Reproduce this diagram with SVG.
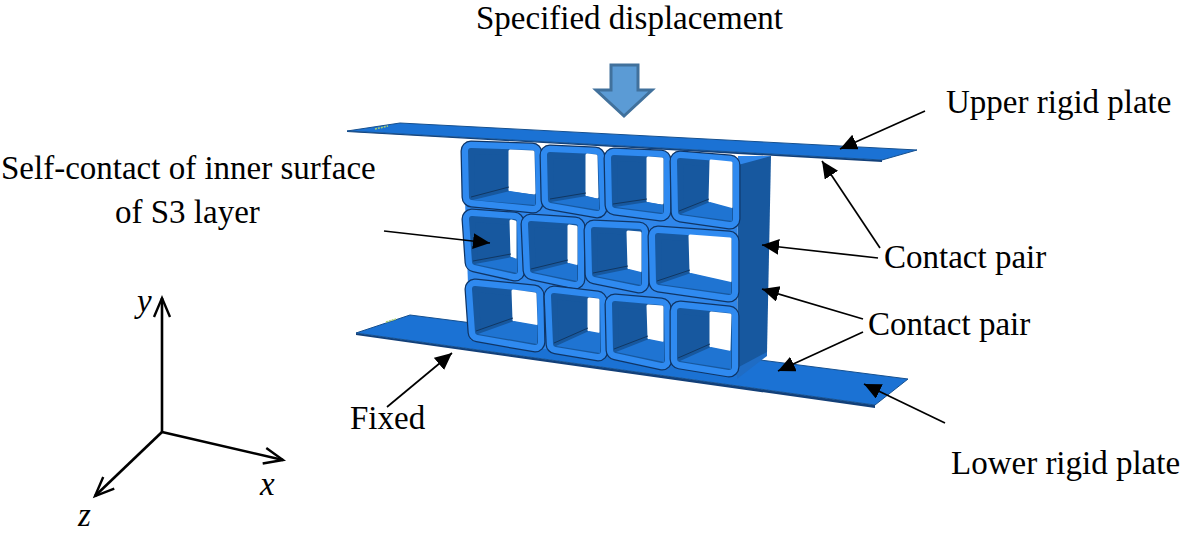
<svg xmlns="http://www.w3.org/2000/svg" width="1181" height="537" viewBox="0 0 1181 537">
<defs>
<marker id="head" markerUnits="userSpaceOnUse" markerWidth="18" markerHeight="18" refX="17" refY="8" orient="auto"><path d="M0,0L17,8L0,16z" fill="#000"/></marker>
<marker id="open" markerUnits="userSpaceOnUse" markerWidth="24" markerHeight="24" refX="20" refY="10" orient="auto"><path d="M1,2L20,10L1,18" fill="none" stroke="#000" stroke-width="2.4"/></marker>
</defs>
<style>
text{font-family:"Liberation Serif","Times New Roman",serif;font-size:33px;fill:#000}
.i{font-style:italic}
.plate{fill:#1b72d4;stroke:#16508f;stroke-width:1;stroke-linejoin:round}
.under{fill:#123f78}
.speck{fill:none;stroke:#a8d070;stroke-width:1.5;stroke-dasharray:2 1}
.web{fill:#2f86ea}
.wall{fill:#17589f}
.wl{fill:#1f6cc4}
.cell polygon{stroke-linejoin:round}
.e{fill:#0f3566;stroke:#0f3566;stroke-width:21}
.r{fill:#2f8af0;stroke:#2f8af0;stroke-width:18.5}
.d{fill:#17589f;stroke:#17589f;stroke-width:6}
.h{fill:#fff;stroke:#fff;stroke-width:3}
.f{fill:#1f74d2;stroke:none}
.c{fill:none;stroke:#103763;stroke-width:1}
.ln{fill:none;stroke:#000;stroke-width:1.7;marker-end:url(#head)}
.ax{fill:none;stroke:#000;stroke-width:2.6;marker-end:url(#open)}
</style>
<rect width="1181" height="537" fill="#fff"/>

<g id="lower-plate">
<polygon class="under" points="356,333 875,405 875,408 356,335"/>
<polygon class="plate" points="356,333 410,315 908,379 875,405"/>
<path class="speck" d="M386,322L396,319"/>
</g>

<g id="side-wall">
<polygon class="wall" points="738,157 771,156 767,353 737,378"/>
<polygon class="web" points="738,156 771,156 738,165"/>
<polygon class="wl" points="737,368 767,352 767,356 737,379"/>
</g>

<g id="lattice">
<polygon class="web" points="463,145 738,160 737,372 470,340"/>
<g id="cell-1" class="cell"><polygon class="e" points="471,151 532,153 533,203 472,197"/><polygon class="r" points="471,151 532,153 533,203 472,197"/><polygon class="d" points="471,151 532,153 533,203 472,197"/><polygon class="h" points="510,151 533,152 534,193 510,190"/><polygon class="f" points="473,200 510,191 535,195 535,205"/><polyline class="c" points="471,197 509,187"/></g>
<g id="cell-2" class="cell"><polygon class="e" points="550,155 595,157 597,208 551,200"/><polygon class="r" points="550,155 595,157 597,208 551,200"/><polygon class="d" points="550,155 595,157 597,208 551,200"/><polygon class="h" points="587,155 596,156 597,197 587,195"/><polygon class="f" points="551,202 587,196 599,199 599,210"/><polyline class="c" points="550,199 586,193"/></g>
<g id="cell-3" class="cell"><polygon class="e" points="614,158 661,160 661,211 615,205"/><polygon class="r" points="614,158 661,160 661,211 615,205"/><polygon class="d" points="614,158 661,160 661,211 615,205"/><polygon class="h" points="648,158 662,159 662,203 648,201"/><polygon class="f" points="615,207 648,202 663,205 663,213"/><polyline class="c" points="613,204 647,199"/></g>
<g id="cell-4" class="cell"><polygon class="e" points="680,161 730,165 730,219 681,212"/><polygon class="r" points="680,161 730,165 730,219 681,212"/><polygon class="d" points="680,161 730,165 730,219 681,212"/><polygon class="h" points="711,161 731,163 731,207 710,201"/><polygon class="f" points="681,214 710,202 732,208 732,221"/><polyline class="c" points="679,211 709,199"/></g>
<g id="cell-5" class="cell"><polygon class="e" points="472,219 514,222 515,271 475,262"/><polygon class="r" points="472,219 514,222 515,271 475,262"/><polygon class="d" points="472,219 514,222 515,271 475,262"/><polygon class="h" points="511,221 515,222 515,258 512,256"/><polygon class="f" points="475,264 512,257 517,259 517,273"/><polyline class="c" points="473,261 511,254"/></g>
<g id="cell-6" class="cell"><polygon class="e" points="531,224 575,227 575,279 533,270"/><polygon class="r" points="531,224 575,227 575,279 533,270"/><polygon class="d" points="531,224 575,227 575,279 533,270"/><polygon class="h" points="569,226 576,227 576,264 569,262"/><polygon class="f" points="533,272 569,263 577,265 577,281"/><polyline class="c" points="531,269 568,260"/></g>
<g id="cell-7" class="cell"><polygon class="e" points="594,230 639,232 639,283 595,274"/><polygon class="r" points="594,230 639,232 639,283 595,274"/><polygon class="d" points="594,230 639,232 639,283 595,274"/><polygon class="h" points="628,232 640,233 640,271 629,268"/><polygon class="f" points="595,276 629,269 641,272 641,285"/><polyline class="c" points="593,273 628,266"/></g>
<g id="cell-8" class="cell"><polygon class="e" points="658,236 729,241 729,292 659,282"/><polygon class="r" points="658,236 729,241 729,292 659,282"/><polygon class="d" points="658,236 729,241 729,292 659,282"/><polygon class="h" points="690,236 730,239 730,281 691,272"/><polygon class="f" points="659,284 691,273 731,282 731,294"/><polyline class="c" points="657,281 690,270"/></g>
<g id="cell-9" class="cell"><polygon class="e" points="475,289 534,295 535,342 478,332"/><polygon class="r" points="475,289 534,295 535,342 478,332"/><polygon class="d" points="475,289 534,295 535,342 478,332"/><polygon class="h" points="513,291 535,294 536,324 514,320"/><polygon class="f" points="478,334 514,321 537,325 537,344"/><polyline class="c" points="476,331 513,318"/></g>
<g id="cell-10" class="cell"><polygon class="e" points="554,296 597,301 598,351 556,344"/><polygon class="r" points="554,296 597,301 598,351 556,344"/><polygon class="d" points="554,296 597,301 598,351 556,344"/><polygon class="h" points="589,299 598,300 598,332 589,330"/><polygon class="f" points="556,346 589,331 600,333 600,353"/><polyline class="c" points="554,343 588,328"/></g>
<g id="cell-11" class="cell"><polygon class="e" points="615,304 661,308 662,360 616,350"/><polygon class="r" points="615,304 661,308 662,360 616,350"/><polygon class="d" points="615,304 661,308 662,360 616,350"/><polygon class="h" points="648,306 662,307 662,341 649,338"/><polygon class="f" points="616,352 649,339 664,342 664,362"/><polyline class="c" points="614,349 648,336"/></g>
<g id="cell-12" class="cell"><polygon class="e" points="680,311 729,316 729,367 680,359"/><polygon class="r" points="680,311 729,316 729,367 680,359"/><polygon class="d" points="680,311 729,316 729,367 680,359"/><polygon class="h" points="711,313 730,315 729,350 711,346"/><polygon class="f" points="680,361 711,347 731,351 731,369"/><polyline class="c" points="678,358 710,344"/></g>
</g>

<g id="upper-plate">
<polygon class="under" points="347,131 882,160 882,162 347,132"/>
<polygon class="plate" points="347,131 400,123 917,150 882,160"/>
<path class="speck" d="M375,129L388,126"/>
</g>

<g id="load-arrow">
<polygon points="611,65 638,65 638,90 652,90 624,116 596,90 611,90" fill="#5b9bd5" stroke="#41719c" stroke-width="3"/>
</g>

<g id="connectors">
<line class="ln" x1="925" y1="111" x2="840" y2="149"/>
<line class="ln" x1="880" y1="248" x2="822" y2="161"/>
<line class="ln" x1="878" y1="258" x2="762" y2="245"/>
<line class="ln" x1="863" y1="319" x2="762" y2="289"/>
<line class="ln" x1="863" y1="332" x2="778" y2="371"/>
<line class="ln" x1="945" y1="423" x2="864" y2="384"/>
<line class="ln" x1="387" y1="407" x2="452" y2="353"/>
<line class="ln" x1="384" y1="231" x2="490" y2="243"/>
<line class="ax" x1="162" y1="432" x2="162" y2="298"/>
<line class="ax" x1="162" y1="432" x2="283" y2="460"/>
<line class="ax" x1="162" y1="432" x2="95" y2="496"/>
</g>

<g id="labels">
<text x="476" y="29">Specified displacement</text>
<text x="946" y="113">Upper rigid plate</text>
<text x="1" y="179">Self-contact of inner surface</text>
<text x="115" y="223">of S3 layer</text>
<text x="884" y="268">Contact pair</text>
<text x="868" y="335">Contact pair</text>
<text x="350" y="429">Fixed</text>
<text x="951" y="474">Lower rigid plate</text>
<text class="i" x="137" y="312">y</text>
<text class="i" x="260" y="495">x</text>
<text class="i" x="78" y="526">z</text>
</g>
</svg>
